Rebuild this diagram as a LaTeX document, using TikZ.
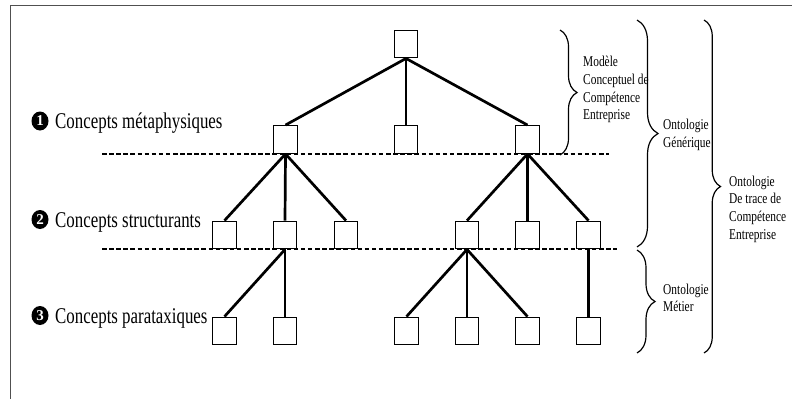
\documentclass[tikz,border=0pt]{standalone}
\usepackage{fontspec}
\setmainfont{Liberation Serif}
\usetikzlibrary{decorations.pathreplacing,shapes.geometric}
\definecolor{framegray}{RGB}{80,80,80}
\begin{document}
\begin{tikzpicture}[x=1pt,y=-1pt,
  box/.style={draw, fill=white, line width=1.4pt, minimum width=23.5pt, minimum height=27.5pt, inner sep=0pt},
  edge/.style={line width=2.7pt},
  dashline/.style={line width=1.4pt, dash pattern=on 4.5pt off 2.6pt},
  br/.style={decorate, decoration={brace, amplitude=#1}, line width=1.2pt},
  numc/.style={ellipse, fill=black, text=white, inner sep=0pt, minimum width=17pt, minimum height=19pt, font=\fontsize{15}{15}\selectfont\bfseries},
  lbl/.style={inner sep=0pt, anchor=base west, font=\fontsize{22.5}{27}\selectfont},
  rtext/.style={inner sep=0pt, anchor=base west, font=\fontsize{15}{17.7}\selectfont},
]
\useasboundingbox (0,0) rectangle (792,399);
% frame
\coordinate (fr1) at (792,5.5);
\coordinate (fr2) at (10.5,5.5);
\coordinate (fr3) at (10.5,399);
\draw[framegray, line width=1.5pt] (fr1) -- (fr2) -- (fr3);

% dashed separators
\coordinate (d1a) at (102,154);
\coordinate (d1b) at (609,154);
\coordinate (d2a) at (102,249);
\coordinate (d2b) at (617,249);
\draw[dashline] (d1a) -- (d1b);
\draw[dashline] (d2a) -- (d2b);

% boxes
\node[box] (t) at (406,44) {};
\node[box] (a1) at (285.5,139.5) {};
\node[box] (a2) at (406,139.5) {};
\node[box] (a3) at (527.5,139.5) {};
\node[box] (b1) at (224.5,235) {};
\node[box] (b2) at (285,235) {};
\node[box] (b3) at (346,235) {};
\node[box] (b4) at (467,235) {};
\node[box] (b5) at (527.5,235) {};
\node[box] (b6) at (588.5,235) {};
\node[box] (c1) at (224.5,331) {};
\node[box] (c2) at (285,331) {};
\node[box] (c3) at (406.5,331) {};
\node[box] (c4) at (467,331) {};
\node[box] (c5) at (527.5,331) {};
\node[box] (c6) at (588.5,331) {};

% edges
\draw[edge] (t.south) -- (a1.north);
\draw[edge] (t.south) -- (a2.north);
\draw[edge] (t.south) -- (a3.north);
\draw[edge] (a1.south) -- (b1.north);
\draw[edge] (a1.south) -- (b2.north);
\draw[edge] (a1.south) -- (b3.north);
\draw[edge] (a3.south) -- (b4.north);
\draw[edge] (a3.south) -- (b5.north);
\draw[edge] (a3.south) -- (b6.north);
\draw[edge] (b2.south) -- (c1.north);
\draw[edge] (b2.south) -- (c2.north);
\draw[edge] (b4.south) -- (c3.north);
\draw[edge] (b4.south) -- (c4.north);
\draw[edge] (b4.south) -- (c5.north);
\draw[edge] (b6.south) -- (c6.north);

% level labels
\node[numc] (n1) at (40,121) {1};
\node[lbl] (l1) at (55,128.3) {\scalebox{0.75}[1]{Concepts métaphysiques}};
\node[numc] (n2) at (40,219.5) {2};
\node[lbl] (l2) at (55,227.5) {\scalebox{0.75}[1]{Concepts structurants}};
\node[numc] (n3) at (40,315.5) {3};
\node[lbl] (l3) at (55,323.3) {\scalebox{0.75}[1]{Concepts parataxiques}};

% braces
\coordinate (br1a) at (560,30);
\coordinate (br1b) at (560,155);
\draw[br=17pt] (br1a) -- (br1b);
\coordinate (br2a) at (637,20);
\coordinate (br2b) at (637,247);
\draw[br=21pt] (br2a) -- (br2b);
\coordinate (br3a) at (637,250);
\coordinate (br3b) at (637,353);
\draw[br=18pt] (br3a) -- (br3b);
\coordinate (br4a) at (704,20);
\coordinate (br4b) at (704,353);
\draw[br=16.5pt] (br4a) -- (br4b);

% brace texts
\node[rtext] (mcce) at (583,66.7) {\scalebox{0.76}[1]{\begin{tabular}[t]{@{}l@{}}Modèle\\Conceptuel de\\Compétence\\Entreprise\end{tabular}}};
\node[rtext] (og) at (663,129.5) {\scalebox{0.76}[1]{\begin{tabular}[t]{@{}l@{}}Ontologie\\Générique\end{tabular}}};
\node[rtext] (om) at (663,294) {\scalebox{0.76}[1]{\begin{tabular}[t]{@{}l@{}}Ontologie\\Métier\end{tabular}}};
\node[rtext] (otce) at (729,186) {\scalebox{0.76}[1]{\begin{tabular}[t]{@{}l@{}}Ontologie\\De trace de\\Compétence\\Entreprise\end{tabular}}};
\end{tikzpicture}
\end{document}
